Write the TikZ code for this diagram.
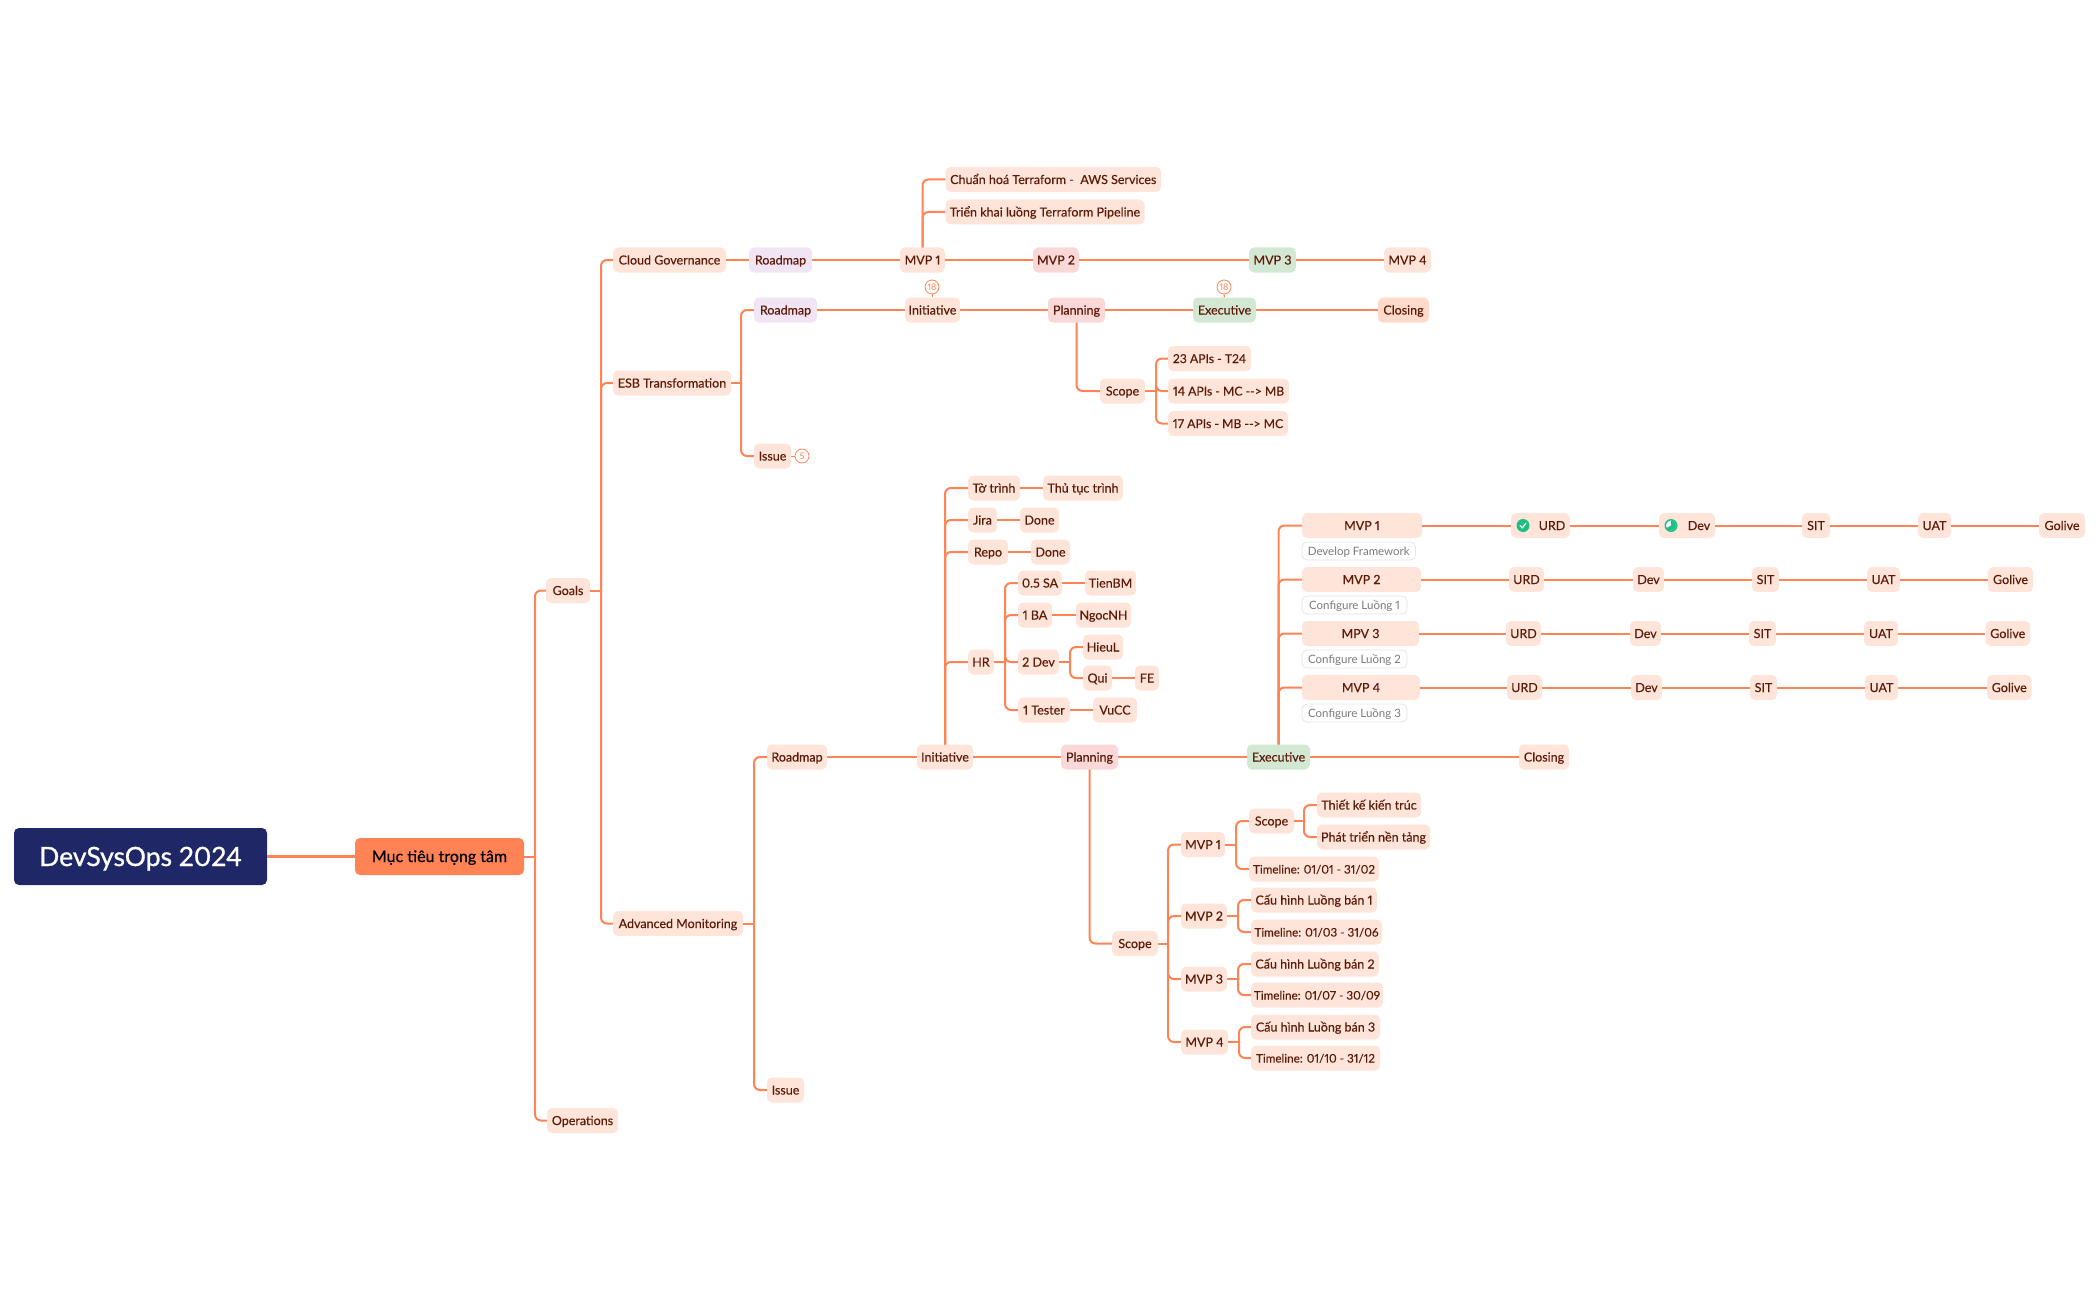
\documentclass[tikz,border=0pt]{standalone}
\usepackage{fontspec}
\usetikzlibrary{calc}
\setmainfont{Lato}[Numbers=Proportional]
\definecolor{lk}{HTML}{FF8355}
\definecolor{bx}{HTML}{FFE4DA}
\definecolor{tx}{HTML}{5C1A08}
\definecolor{lil}{HTML}{F1E5F5}
\definecolor{pnk}{HTML}{FAD8D8}
\definecolor{grn}{HTML}{D3E8D3}
\definecolor{clo}{HTML}{FFDACB}
\definecolor{navy}{HTML}{1F2766}
\definecolor{ok}{HTML}{1DBF84}
\tikzset{
 x=1pt,y=-1pt,
 box/.style={rectangle,rounded corners=5pt,fill=bx,text=tx,inner sep=0pt,minimum height=25pt,text height=9pt,text depth=0pt,font=\fontsize{12.5}{14}\selectfont\addfontfeature{FakeBold=0.25}},
 tight/.style={font=\fontsize{11.7}{14}\selectfont\addfontfeature{FakeBold=0.25}},
 apis/.style={font=\fontsize{12.2}{14}\selectfont\addfontfeature{FakeBold=0.25}},
 notebox/.style={box,fill=white,draw=black!10,line width=.8pt,text=black!52,minimum height=18pt,text height=8.4pt,font=\fontsize{11.5}{13}\selectfont},
 lilac/.style={fill=lil},
 pink/.style={fill=pnk},
 green/.style={fill=grn},
 closing/.style={fill=clo},
 rootbox/.style={box,fill=navy,text=white,minimum height=57pt,text height=19pt,font=\fontsize{26.5}{30}\selectfont\addfontfeature{FakeBold=1}},
 mainbox/.style={box,fill=lk,text=black,minimum height=37pt,text height=11pt,font=\fontsize{16}{18}\selectfont\addfontfeature{FakeBold=0.6}},
 badge/.style={circle,draw=lk,fill=white,line width=.8pt,text=lk,inner sep=0pt,minimum size=14pt,font=\fontsize{9}{10}\selectfont},
 link/.style={draw=lk,line width=2pt,rounded corners=6pt},
}
% [style]{name}{x1}{x2}{yc}{text}
\newcommand{\nd}[6][]{\node[box,#1,minimum width={(#4-#3)*1pt}] (#2) at ({(#3+#4)/2},#5) {#6};}
% straight link chain
\newcommand{\st}[2]{\draw[link] (#1.east) -- (#2.west);}
% elbow via junction coordinate: parent, junction, child
\newcommand{\el}[3]{\draw[link] (#1.east) -- (#1.east -| #2);\draw[link] (#1.east -| #2) -- (#2 |- #3.west) -- (#3.west);}
% stem from a node top or bottom to a child
\newcommand{\sm}[3]{\draw[link] (#1.#2) -- (#1.#2 |- #3.west) -- (#3.west);}
\begin{document}
\begin{tikzpicture}
\path (0,0) rectangle (2099,1300);
% junction columns
\foreach \n/\v in {jA/535,jB/601,jC/741,jD/754,jE/1156,jF/1005,jG/1070,jH/1168,jI/1236,jJ/1304,jK/1238,jL/1238,jM/1239}{\coordinate (\n) at (\v,0);}
% root
\nd[rootbox]{root}{14}{267}{856.5}{DevSysOps 2024}
\nd[mainbox]{main}{355}{524}{856.5}{Mục tiêu trọng tâm}
\nd{goals}{546}{590}{590.5}{Goals}
\nd{ops}{547}{618}{1120.5}{Operations}
\nd{cloud}{613}{726}{260}{Cloud Governance}
\nd{esb}{613}{731}{383}{ESB Transformation}
\nd{adv}{613}{743}{923.5}{Advanced Monitoring}
% cloud row
\nd[lilac]{r1}{749}{812}{260}{Roadmap}
\nd{c1}{900}{945}{260}{MVP 1}
\nd[pink]{c2}{1033}{1079}{260}{MVP 2}
\nd[green]{c3}{1249}{1296}{260}{MVP 3}
\nd{c4}{1384}{1431}{260}{MVP 4}
\nd{tf1}{945.5}{1161}{179.5}{Chuẩn hoá Terraform -\ \ AWS Services}
\nd{tf2}{945.5}{1144.5}{212}{Triển khai luồng Terraform Pipeline}
% esb row
\nd[lilac]{r2}{754}{817}{310}{Roadmap}
\nd{e1}{905}{960}{310}{Initiative}
\nd[pink]{e2}{1048}{1105}{310}{Planning}
\nd[green]{e3}{1193}{1256}{310}{Executive}
\nd[closing]{e4}{1378}{1429}{310}{Closing}
\nd{es}{1100}{1145}{391}{Scope}
\nd[apis]{a1}{1168}{1251}{358.5}{23 APIs - T24}
\nd[apis]{a2}{1168}{1289}{391}{14 APIs - MC -{}-> MB}
\nd[apis]{a3}{1168}{1288}{423.5}{17 APIs - MB -{}-> MC}
\nd{ei}{754}{791}{456}{Issue}
\node[badge] (b5) at (802,456) {5};
\node[badge] (b1) at (932,287) {18};
\node[badge] (b2) at (1224,287) {18};
% advanced row
\nd{r3}{767}{827}{757}{Roadmap}
\nd{m1}{917}{973}{757}{Initiative}
\nd[pink]{m2}{1061}{1118}{757}{Planning}
\nd[green]{m3}{1247}{1310}{757}{Executive}
\nd{m4}{1519}{1569}{757}{Closing}
\nd{mi}{767}{804}{1090}{Issue}
% initiative children
\nd{i1}{968}{1020}{488}{Tờ trình}
\nd{i1a}{1043}{1123}{488}{Thủ tục trình}
\nd{i2}{968}{997}{520}{Jira}
\nd{i2a}{1020}{1059}{520}{Done}
\nd{i3}{968}{1008}{552}{Repo}
\nd{i3a}{1031}{1070}{552}{Done}
\nd{hr}{968}{994}{662}{HR}
\nd{h1}{1018}{1062}{583}{0.5 SA}
\nd{h1a}{1085}{1136}{583}{TienBM}
\nd{h2}{1018}{1052}{615}{1 BA}
\nd{h2a}{1076}{1131}{615}{NgocNH}
\nd{h3}{1018}{1059}{662}{2 Dev}
\nd{h3a}{1083}{1123}{647}{HieuL}
\nd{h3b}{1083}{1112}{678}{Qui}
\nd{h3c}{1135}{1159}{678}{FE}
\nd{h4}{1018}{1070}{710}{1 Tester}
\nd{h4a}{1093}{1137}{710}{VuCC}
% planning children
\nd{ps}{1112}{1158}{943.5}{Scope}
\nd{p1}{1181}{1225}{844.5}{MVP 1}
\nd{p1s}{1249}{1294}{821}{Scope}
\nd{p1a}{1317}{1421}{805}{Thiết kế kiến trúc}
\nd{p1b}{1317}{1430}{837}{Phát triển nền tảng}
\nd[tight]{p1t}{1249}{1379}{869}{Timeline: 01/01 - 31/02}
\nd{p2}{1181}{1227}{916}{MVP 2}
\nd{p2a}{1251}{1377}{900}{Cấu hình Luồng bán 1}
\nd[tight]{p2t}{1251}{1382}{932}{Timeline: 01/03 - 31/06}
\nd{p3}{1181}{1227}{979}{MVP 3}
\nd{p3a}{1251}{1379}{964}{Cấu hình Luồng bán 2}
\nd[tight]{p3t}{1251}{1383}{995}{Timeline: 01/07 - 30/09}
\nd{p4}{1181}{1228}{1042}{MVP 4}
\nd{p4a}{1251}{1380}{1027}{Cấu hình Luồng bán 3}
\nd[tight]{p4t}{1251}{1380}{1058}{Timeline: 01/10 - 31/12}
% executive children
\nd{x1}{1302}{1422}{525.5}{MVP 1}
\node[notebox,minimum width=113.5pt] (n1) at (1358.75,551) {Develop Framework};
\nd{x1a}{1511}{1570}{525.5}{\hspace*{23pt}URD}
\nd{x1b}{1659}{1715}{525.5}{\hspace*{24pt}Dev}
\nd{x1c}{1802}{1830}{525.5}{SIT}
\nd{x1d}{1918}{1951}{525.5}{UAT}
\nd{x1e}{2039}{2085}{525.5}{Golive}
\nd{x2}{1302}{1421}{579.5}{MVP 2}
\node[notebox,minimum width=105pt] (n2) at (1354.5,605) {Configure Luồng 1};
\nd{x2a}{1509}{1544}{579.5}{URD}
\nd{x2b}{1633}{1664}{579.5}{Dev}
\nd{x2c}{1752}{1779}{579.5}{SIT}
\nd{x2d}{1867}{1900}{579.5}{UAT}
\nd{x2e}{1988}{2033}{579.5}{Golive}
\nd{x3}{1302}{1419}{633.5}{MPV 3}
\node[notebox,minimum width=105pt] (n3) at (1354.5,659) {Configure Luồng 2};
\nd{x3a}{1506}{1541}{633.5}{URD}
\nd{x3b}{1630}{1661}{633.5}{Dev}
\nd{x3c}{1749}{1776}{633.5}{SIT}
\nd{x3d}{1864}{1898}{633.5}{UAT}
\nd{x3e}{1985.5}{2030}{633.5}{Golive}
\nd{x4}{1302}{1420}{687.5}{MVP 4}
\node[notebox,minimum width=105pt] (n4) at (1354.5,713) {Configure Luồng 3};
\nd{x4a}{1507}{1542}{687.5}{URD}
\nd{x4b}{1631}{1662}{687.5}{Dev}
\nd{x4c}{1750}{1777}{687.5}{SIT}
\nd{x4d}{1865}{1898}{687.5}{UAT}
\nd{x4e}{1987}{2031.5}{687.5}{Golive}
% status icons
\node[circle,fill=ok,minimum size=13pt,inner sep=0pt] (ic1) at (1523,525.5) {};
\draw[white,line width=1.2pt,line cap=round,line join=round] ($(ic1)+(-3,0)$) -- ($(ic1)+(-.8,2.4)$) -- ($(ic1)+(3,-2.4)$);
\node[circle,fill=ok,minimum size=13pt,inner sep=0pt] (ic2) at (1671,525.5) {};
\fill[white] (ic2.center) circle[radius=5pt];
\fill[ok] (ic2.center) -- ++(0pt,5pt) arc[start angle=90,end angle=-150,radius=5pt] -- cycle;
% connectors
\draw[link,line width=2.6pt] (root.east) -- (main.west);
\el{main}{jA}{goals}\el{main}{jA}{ops}
\el{goals}{jB}{cloud}\el{goals}{jB}{esb}\el{goals}{jB}{adv}
\st{cloud}{r1}\st{r1}{c1}\st{c1}{c2}\st{c2}{c3}\st{c3}{c4}
\sm{c1}{north}{tf1}\sm{c1}{north}{tf2}
\el{esb}{jC}{r2}\el{esb}{jC}{ei}
\st{r2}{e1}\st{e1}{e2}\st{e2}{e3}\st{e3}{e4}
\sm{e2}{south}{es}
\el{es}{jE}{a1}\el{es}{jE}{a2}\el{es}{jE}{a3}
\draw[link,line width=1pt] (ei.east) -- (b5.west);
\draw[link,line width=1pt] (b1.south) -- (e1.north -| b1.south);
\draw[link,line width=1pt] (b2.south) -- (e3.north);
\el{adv}{jD}{r3}\el{adv}{jD}{mi}
\st{r3}{m1}\st{m1}{m2}\st{m2}{m3}\st{m3}{m4}
\sm{m1}{north}{i1}\sm{m1}{north}{i2}\sm{m1}{north}{i3}\sm{m1}{north}{hr}
\st{i1}{i1a}\st{i2}{i2a}\st{i3}{i3a}
\el{hr}{jF}{h1}\el{hr}{jF}{h2}\el{hr}{jF}{h3}\el{hr}{jF}{h4}
\st{h1}{h1a}\st{h2}{h2a}\st{h4}{h4a}
\el{h3}{jG}{h3a}\el{h3}{jG}{h3b}\st{h3b}{h3c}
\sm{m2}{south}{ps}
\el{ps}{jH}{p1}\el{ps}{jH}{p2}\el{ps}{jH}{p3}\el{ps}{jH}{p4}
\el{p1}{jI}{p1s}\el{p1}{jI}{p1t}
\el{p1s}{jJ}{p1a}\el{p1s}{jJ}{p1b}
\el{p2}{jK}{p2a}\el{p2}{jK}{p2t}
\el{p3}{jL}{p3a}\el{p3}{jL}{p3t}
\el{p4}{jM}{p4a}\el{p4}{jM}{p4t}
\sm{m3}{north}{x1}\sm{m3}{north}{x2}\sm{m3}{north}{x3}\sm{m3}{north}{x4}
\st{x1}{x1a}\st{x1a}{x1b}\st{x1b}{x1c}\st{x1c}{x1d}\st{x1d}{x1e}
\st{x2}{x2a}\st{x2a}{x2b}\st{x2b}{x2c}\st{x2c}{x2d}\st{x2d}{x2e}
\st{x3}{x3a}\st{x3a}{x3b}\st{x3b}{x3c}\st{x3c}{x3d}\st{x3d}{x3e}
\st{x4}{x4a}\st{x4a}{x4b}\st{x4b}{x4c}\st{x4c}{x4d}\st{x4d}{x4e}
\end{tikzpicture}
\end{document}
